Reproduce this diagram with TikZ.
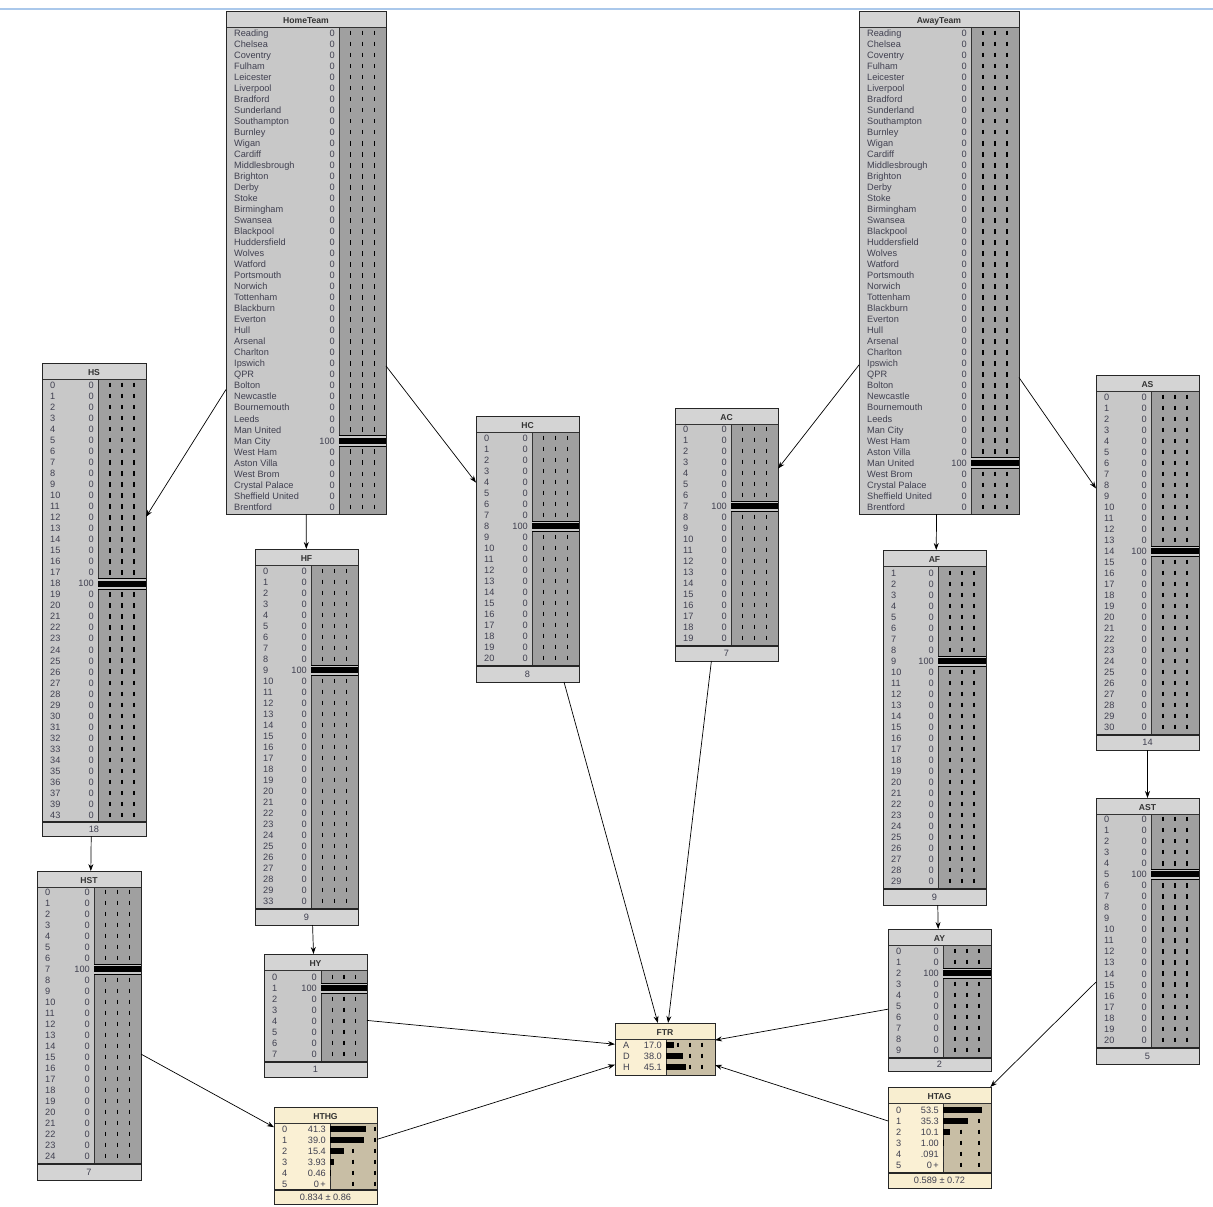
\documentclass[tikz,border=0pt]{standalone}
\usepackage{fontspec}
\setmainfont{Liberation Sans}
\usetikzlibrary{arrows.meta}

\definecolor{gtitle}{RGB}{212,212,212}
\definecolor{glab}{RGB}{200,200,200}
\definecolor{gbar}{RGB}{160,160,160}
\definecolor{btitle}{RGB}{248,238,208}
\definecolor{blab}{RGB}{250,240,212}
\definecolor{bbar}{RGB}{200,190,165}
\definecolor{txt}{RGB}{64,64,80}
\definecolor{topline}{RGB}{170,200,235}

\tikzset{
  boxframe/.style={draw=black!85, line width=0.9pt, inner sep=0pt, outer sep=0pt, anchor=north west},
  titletext/.style={font=\bfseries\fontsize{8.6}{10}\selectfont, text=black!80, inner sep=0pt, anchor=base},
  rowtext/.style={font=\fontsize{9.2}{11}\selectfont, text=txt, inner sep=0pt},
  conn/.style={-{Stealth[length=7pt,width=5pt]}, line width=0.7pt},
  dashseg/.style={line width=1.1pt, black},
}

% #1 name, #2 title, #3 x1, #4 y1, #5 x2, #6 y2, #7 sep, #8 rows bottom, #9 scheme
\newcommand{\NetBox}[9]{%
  \fill[#9title] (#3,#4) rectangle (#5,#6);
  \fill[#9lab] (#3,#4+16) rectangle (#7,#8);
  \fill[#9bar] (#7,#4+16) rectangle (#5,#8);
  \draw[line width=0.8pt,black!80] (#3,#4+16) -- (#5,#4+16);
  \draw[line width=0.8pt,black!80] (#7,#4+16) -- (#7,#8);
  \ifdim #8pt<#6pt \draw[line width=1.6pt,black!85] (#3,#8) -- (#5,#8);\fi
  \pgfmathsetmacro{\NBw}{#5-#3}%
  \pgfmathsetmacro{\NBh}{#6-#4}%
  \node[boxframe, minimum width=\NBw pt, minimum height=\NBh pt] (#1) at (#3,#4) {};
  \node[titletext] (#1-title) at ({(#3+#5)/2},#4+12.3) {#2};
}

% #1 name, #2 x1, #3 sep, #4 x2, #5 y0, #6 step, #7 labels, #8 hot index
\newcommand{\GRows}[8]{%
  \foreach \lab [count=\i from 0] in {#7}{%
    \pgfmathsetmacro{\NRy}{#5+\i*#6}%
    \foreach \k in {1,2,3}{\draw[dashseg] ({#3+\k*(#4-#3)/4},\NRy-2.3) -- ({#3+\k*(#4-#3)/4},\NRy+2.3);}
    \ifnum\i=#8
      \fill[glab] (#3,\NRy-5.5) rectangle (#4,\NRy+5.5);
      \draw[line width=0.8pt] (#3,\NRy-5) -- (#4,\NRy-5);
      \draw[line width=0.8pt] (#3,\NRy+5.5) -- (#4,\NRy+5.5);
      \fill[black] (#3,\NRy-2.8) rectangle (#4,\NRy+3.2);
    \fi
    \node[rowtext, anchor=base west] (#1-l\i) at (#2+8,\NRy+3.3) {\lab};
    \node[rowtext, anchor=base east] (#1-v\i) at (#3-4,\NRy+3.3) {\ifnum\i=#8 100\else 0\fi};
  }%
}

% #1 name, #2 x1, #3 sep, #4 y0, #5 step, #6 list lab/val/width, #7 dash xs
\newcommand{\BRows}[7]{%
  \foreach \lab/\val/\w [count=\i from 0] in {#6}{%
    \pgfmathsetmacro{\NRy}{#4+\i*#5}%
    \foreach \dx in {#7}{\draw[dashseg] (\dx,\NRy-2.3) -- (\dx,\NRy+2.3);}
    \fill[black] (#3,\NRy-2.6) rectangle ({#3+\w},\NRy+2.6);
    \node[rowtext, anchor=base west] (#1-l\i) at (#2+8,\NRy+3.3) {\lab};
    \node[rowtext, anchor=base east] (#1-v\i) at (#3-4,\NRy+3.3) {\val};
  }%
}

% #1 name, #2 x1, #3 x2, #4 ytop, #5 y2, #6 text
\newcommand{\NetFoot}[6]{%
  \node[rowtext, anchor=base] (#1-foot) at ({(#2+#3)/2},{(#4+#5)/2+3.3}) {#6};
}

\begin{document}
\begin{tikzpicture}[x=1pt,y=-1pt]
\useasboundingbox (0,0) rectangle (1213,1207);
\fill[white] (0,0) rectangle (1213,1207);
\draw[topline, line width=1.2pt] (0,9) -- (1213,9);

% HomeTeam
\NetBox{HomeTeam}{HomeTeam}{226}{11}{386}{514}{339}{514}{g}
\GRows{HomeTeam}{226}{339}{386}{33}{11.02}{Reading,Chelsea,Coventry,Fulham,Leicester,Liverpool,Bradford,Sunderland,Southampton,Burnley,Wigan,Cardiff,Middlesbrough,Brighton,Derby,Stoke,Birmingham,Swansea,Blackpool,Huddersfield,Wolves,Watford,Portsmouth,Norwich,Tottenham,Blackburn,Everton,Hull,Arsenal,Charlton,Ipswich,QPR,Bolton,Newcastle,Bournemouth,Leeds,Man United,Man City,West Ham,Aston Villa,West Brom,Crystal Palace,Sheffield United,Brentford}{37}

% AwayTeam
\NetBox{AwayTeam}{AwayTeam}{859}{11}{1019}{514}{971}{514}{g}
\GRows{AwayTeam}{859}{971}{1019}{33}{11.02}{Reading,Chelsea,Coventry,Fulham,Leicester,Liverpool,Bradford,Sunderland,Southampton,Burnley,Wigan,Cardiff,Middlesbrough,Brighton,Derby,Stoke,Birmingham,Swansea,Blackpool,Huddersfield,Wolves,Watford,Portsmouth,Norwich,Tottenham,Blackburn,Everton,Hull,Arsenal,Charlton,Ipswich,QPR,Bolton,Newcastle,Bournemouth,Leeds,Man City,West Ham,Aston Villa,Man United,West Brom,Crystal Palace,Sheffield United,Brentford}{39}

% HS
\NetBox{HS}{HS}{42}{363}{146}{836}{98}{822}{g}
\GRows{HS}{42}{98}{146}{385}{11.03}{0,1,2,3,4,5,6,7,8,9,10,11,12,13,14,15,16,17,18,19,20,21,22,23,24,25,26,27,28,29,30,31,32,33,34,35,36,37,39,43}{18}
\NetFoot{HS}{42}{146}{822}{836}{18}

% HST
\NetBox{HST}{HST}{37}{871}{141}{1180}{94}{1164}{g}
\GRows{HST}{37}{94}{141}{892}{11}{0,1,2,3,4,5,6,7,8,9,10,11,12,13,14,15,16,17,18,19,20,21,22,23,24}{7}
\NetFoot{HST}{37}{141}{1164}{1180}{7}

% HF
\NetBox{HF}{HF}{255}{549}{358}{925}{311}{909}{g}
\GRows{HF}{255}{311}{358}{571}{11}{0,1,2,3,4,5,6,7,8,9,10,11,12,13,14,15,16,17,18,19,20,21,22,23,24,25,26,27,28,29,33}{9}
\NetFoot{HF}{255}{358}{909}{925}{9}

% HY
\NetBox{HY}{HY}{264}{954}{367}{1077}{321}{1062}{g}
\GRows{HY}{264}{321}{367}{977}{11}{0,1,2,3,4,5,6,7}{1}
\NetFoot{HY}{264}{367}{1062}{1077}{1}

% HC
\NetBox{HC}{HC}{476}{416}{579}{682}{532}{666}{g}
\GRows{HC}{476}{532}{579}{438}{11}{0,1,2,3,4,5,6,7,8,9,10,11,12,13,14,15,16,17,18,19,20}{8}
\NetFoot{HC}{476}{579}{666}{682}{8}

% AC
\NetBox{AC}{AC}{675}{408}{778}{661}{731}{646}{g}
\GRows{AC}{675}{731}{778}{429}{11}{0,1,2,3,4,5,6,7,8,9,10,11,12,13,14,15,16,17,18,19}{7}
\NetFoot{AC}{675}{778}{646}{661}{7}

% AF
\NetBox{AF}{AF}{883}{550}{986}{905}{938}{889}{g}
\GRows{AF}{883}{938}{986}{573}{11}{1,2,3,4,5,6,7,8,9,10,11,12,13,14,15,16,17,18,19,20,21,22,23,24,25,26,27,28,29}{8}
\NetFoot{AF}{883}{986}{889}{905}{9}

% AS
\NetBox{AS}{AS}{1096}{375}{1199}{750}{1151}{735}{g}
\GRows{AS}{1096}{1151}{1199}{397}{11}{0,1,2,3,4,5,6,7,8,9,10,11,12,13,14,15,16,17,18,19,20,21,22,23,24,25,26,27,28,29,30}{14}
\NetFoot{AS}{1096}{1199}{735}{750}{14}

% AST
\NetBox{AST}{AST}{1096}{798}{1199}{1064}{1151}{1048}{g}
\GRows{AST}{1096}{1151}{1199}{819}{11.05}{0,1,2,3,4,5,6,7,8,9,10,11,12,13,14,15,16,17,18,19,20}{5}
\NetFoot{AST}{1096}{1199}{1048}{1064}{5}

% AY
\NetBox{AY}{AY}{888}{929}{991}{1071}{943}{1058}{g}
\GRows{AY}{888}{943}{991}{951}{11}{0,1,2,3,4,5,6,7,8,9}{2}
\NetFoot{AY}{888}{991}{1058}{1071}{2}

% FTR
\NetBox{FTR}{FTR}{615}{1023}{715}{1075}{666}{1075}{b}
\BRows{FTR}{615}{666}{1045}{11}{A/17.0/7.7,D/38.0/17.1,H/45.1/20.3}{678,690,702}

% HTHG
\NetBox{HTHG}{HTHG}{274}{1107}{377}{1204}{330}{1190}{b}
\BRows{HTHG}{274}{330}{1129}{11}{0/41.3/36.3,1/39.0/34.3,2/15.4/13.6,3/3.93/3.5,4/0.46/0.4,5/0\,+/0}{353,375}
\NetFoot{HTHG}{274}{377}{1190}{1204}{0.834 ± 0.86}

% HTAG
\NetBox{HTAG}{HTAG}{888}{1087}{991}{1188}{943}{1173}{b}
\BRows{HTAG}{888}{943}{1110}{11}{0/53.5/38.5,1/35.3/25.4,2/10.1/7.3,3/1.00/0.7,4/.091/0,5/0\,+/0}{961,979}
\NetFoot{HTAG}{888}{991}{1173}{1188}{0.589 ± 0.72}

% connectors
\draw[conn] (HomeTeam) -- (HS);
\draw[conn] (HomeTeam) -- (HF);
\draw[conn] (HomeTeam) -- (HC);
\draw[conn] (HS) -- (HST);
\draw[conn] (HF) -- (HY);
\draw[conn] (HST) -- (HTHG);
\draw[conn] (HY) -- (FTR);
\draw[conn] (HTHG) -- (FTR);
\draw[conn] (HC) -- (FTR);
\draw[conn] (AC) -- (FTR);
\draw[conn] (AwayTeam) -- (AC);
\draw[conn] (AwayTeam) -- (AF);
\draw[conn] (AwayTeam) -- (AS);
\draw[conn] (AS) -- (AST);
\draw[conn] (AF) -- (AY);
\draw[conn] (AY) -- (FTR);
\draw[conn] (HTAG) -- (FTR);
\draw[conn] (AST) -- (HTAG);
\end{tikzpicture}
\end{document}
